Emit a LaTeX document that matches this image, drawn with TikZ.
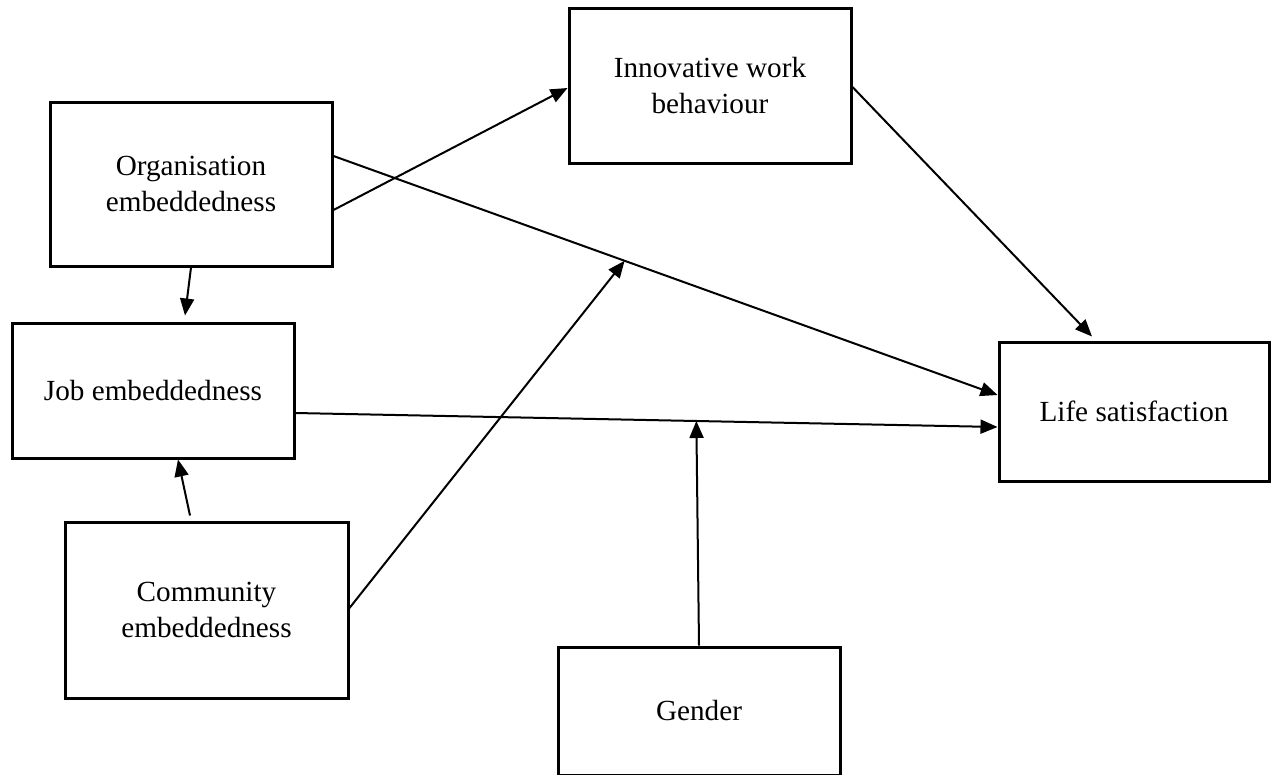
\documentclass[tikz,border=0pt]{standalone}
\usepackage{fontspec}
\setmainfont{Liberation Serif}
\usetikzlibrary{arrows.meta,calc}
\begin{document}
\begin{tikzpicture}[x=1pt,y=-1pt,
  box/.style={draw, line width=3pt, rectangle, align=center, inner sep=0pt,
    font=\fontsize{29.2}{36}\selectfont},
  conn/.style={line width=2pt, -{Triangle[length=17pt,width=14pt]}}]
\useasboundingbox (0,0) rectangle (1271,774);
\node[box, minimum width=282pt, minimum height=164pt] (org) at (191,184) {Organisation\\embeddedness};
\node[box, minimum width=282pt, minimum height=155pt] (iwb) at (710,85.5) {Innovative work\\behaviour};
\node[box, minimum width=282pt, minimum height=135pt] (job) at (153,390.5) {Job embeddedness};
\node[box, minimum width=283pt, minimum height=176pt] (comm) at (206.5,610) {Community\\embeddedness};
\node[box, minimum width=270pt, minimum height=139pt] (life) at (1134,411.5) {Life satisfaction};
\node[box, minimum width=282pt, minimum height=128pt] (gender) at (699,711) {Gender};

\draw[conn] ([yshift=-26pt]org.east) -- ([yshift=-2.5pt]iwb.west);
\draw[conn] ([yshift=28pt]org.east) -- ([yshift=16.5pt]life.west);
\draw[conn] (org.south) -- ([xshift=32pt,yshift=6pt]job.north);
\draw[conn] ([xshift=-16.5pt,yshift=5pt]comm.north) -- ([xshift=25pt]job.south);
\draw[conn] ([yshift=-22.5pt]job.east) -- ([yshift=-15.5pt]life.west);
\draw[conn] ([yshift=-1.5pt]iwb.east) -- ([xshift=-42pt,yshift=4pt]life.north);

\coordinate (m1) at ($([yshift=28pt]org.east)!0.4384!([yshift=16.5pt]life.west)$);
\coordinate (m2) at ($([yshift=-22.5pt]job.east)!0.571!([yshift=-15.5pt]life.west)$);
\draw[conn] ([yshift=2pt]comm.east) -- (m1);
\draw[conn] (gender.north) -- (m2);
\end{tikzpicture}
\end{document}
